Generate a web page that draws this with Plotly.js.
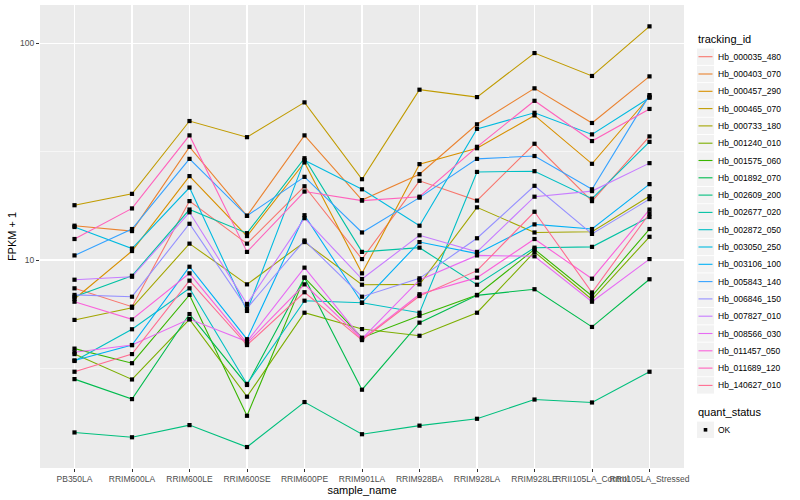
<!DOCTYPE html>
<html><head><meta charset="utf-8">
<script src="https://cdn.plot.ly/plotly-3.0.1.min.js"></script>
<style>html,body{margin:0;padding:0;background:#fff}#chart{width:800px;height:500px}</style>
</head><body><div id="chart"></div>
<script>
// sample names (x categories)
const samples = ["PB350LA","RRIM600LA","RRIM600LE","RRIM600SE","RRIM600PE","RRIM901LA","RRIM928BA","RRIM928LA","RRIM928LE","RRII105LA_Control","RRII105LA_Stressed"];

// FPKM + 1 per tracking_id
const Hb_000035_480 = [7.40, 6.09, 18.7, 11.9, 21.9, 10.1, 23.2, 18.8, 34.4, 18.7, 37.2];
const Hb_000403_070 = [14.4, 13.6, 33.3, 16.0, 37.6, 18.9, 24.9, 42.3, 62.0, 42.9, 70.4];
const Hb_000457_290 = [6.61, 11.0, 24.4, 12.9, 28.2, 8.68, 27.7, 32.8, 46.5, 27.8, 56.7];
const Hb_000465_070 = [17.9, 20.2, 43.8, 36.9, 53.4, 23.6, 61.1, 56.5, 90.2, 70.7, 119.8];
const Hb_000733_180 = [5.29, 6.02, 11.9, 7.72, 12.1, 7.69, 7.72, 17.5, 13.4, 13.5, 19.7];
const Hb_001240_010 = [3.68, 2.81, 5.32, 2.34, 5.71, 4.80, 4.47, 5.71, 10.9, 6.57, 12.8];
const Hb_001575_060 = [3.90, 3.34, 6.90, 1.91, 8.29, 4.38, 5.53, 6.90, 11.2, 6.82, 13.9];
const Hb_001892_070 = [2.82, 2.28, 5.63, 2.65, 8.29, 2.52, 5.14, 6.87, 7.33, 4.91, 8.15];
const Hb_002609_200 = [1.60, 1.52, 1.73, 1.37, 2.21, 1.57, 1.72, 1.85, 2.27, 2.20, 3.05];
const Hb_002677_020 = [6.77, 8.46, 17.1, 13.3, 29.5, 10.9, 11.4, 7.69, 11.4, 11.5, 15.8];
const Hb_002872_050 = [3.42, 4.79, 7.40, 2.68, 6.49, 6.35, 5.71, 25.5, 25.7, 19.2, 35.1];
const Hb_003050_250 = [14.2, 11.3, 21.6, 5.82, 28.9, 21.2, 14.4, 40.3, 47.8, 38.0, 56.1];
const Hb_003106_100 = [3.44, 4.05, 9.31, 4.31, 16.1, 6.35, 12.1, 10.7, 14.6, 13.9, 22.4];
const Hb_005843_140 = [10.5, 13.9, 29.3, 16.0, 24.2, 13.4, 19.4, 29.3, 30.2, 21.2, 57.7];
const Hb_006846_150 = [6.90, 6.77, 14.7, 5.99, 12.3, 6.77, 8.23, 12.6, 22.0, 13.2, 19.1];
const Hb_007827_010 = [8.11, 8.37, 16.6, 6.27, 15.6, 8.17, 13.0, 10.9, 19.6, 20.8, 28.0];
const Hb_008566_030 = [3.75, 4.05, 5.34, 4.20, 9.22, 4.34, 8.09, 10.5, 10.4, 6.42, 10.1];
const Hb_011457_050 = [6.42, 5.32, 8.68, 4.13, 7.72, 4.31, 6.95, 8.29, 12.5, 8.20, 17.1];
const Hb_011689_120 = [12.5, 17.3, 37.6, 10.9, 20.7, 18.8, 19.6, 33.3, 54.3, 35.4, 49.8];
const Hb_140627_010 = [3.05, 3.68, 8.03, 4.05, 7.10, 4.27, 6.82, 8.93, 16.7, 7.08, 16.4];

const trackingIds = ["Hb_000035_480","Hb_000403_070","Hb_000457_290","Hb_000465_070","Hb_000733_180","Hb_001240_010","Hb_001575_060","Hb_001892_070","Hb_002609_200","Hb_002677_020","Hb_002872_050","Hb_003050_250","Hb_003106_100","Hb_005843_140","Hb_006846_150","Hb_007827_010","Hb_008566_030","Hb_011457_050","Hb_011689_120","Hb_140627_010"];
const seriesValues = [Hb_000035_480,Hb_000403_070,Hb_000457_290,Hb_000465_070,Hb_000733_180,Hb_001240_010,Hb_001575_060,Hb_001892_070,Hb_002609_200,Hb_002677_020,Hb_002872_050,Hb_003050_250,Hb_003106_100,Hb_005843_140,Hb_006846_150,Hb_007827_010,Hb_008566_030,Hb_011457_050,Hb_011689_120,Hb_140627_010];
const hueColors = ["#F8766D","#EA8331","#D89000","#C09B00","#A3A500","#7CAE00","#39B600","#00BB4E","#00BF7D","#00C1A3","#00BFC4","#00BAE0","#00B0F6","#35A2FF","#9590FF","#C77CFF","#E76BF3","#FA62DB","#FF62BC","#FF6C91"];
const quantStatus = "OK";
const legendTitle = "tracking_id";
const legendTitle2 = "quant_status";

const FONT = "Liberation Sans, Arial, Helvetica, sans-serif";

// plot panel in pixels (margins)
const M = {l: 40, r: 116, t: 5, b: 32};
const W = 800, H = 500;
const PW = W - M.l - M.r, PH = H - M.t - M.b;
const px = x => (x - M.l) / PW;
const py = y => (H - M.b - y) / PH;

const traces = trackingIds.map((id, i) => ({
  type: "scatter", mode: "lines", name: id,
  x: samples, y: seriesValues[i],
  line: {color: hueColors[i], width: 1.1},
  showlegend: false, hoverinfo: "skip"
}));

const allX = [], allY = [];
seriesValues.forEach(vals => vals.forEach((v, j) => { allX.push(samples[j]); allY.push(v); }));
traces.push({
  type: "scatter", mode: "markers", name: quantStatus,
  x: allX, y: allY,
  marker: {symbol: "square", size: 4.2, color: "black"},
  showlegend: false, hoverinfo: "skip"
});

// hand-built ggplot-style legend (keys with grey boxes)
const shapes = [], annotations = [];
const keyX0 = 697, keyX1 = 714, step = 17.3, first = 56.7;
annotations.push({xref: "paper", yref: "paper", x: px(695.5), y: py(39), xanchor: "left", yanchor: "middle",
  text: legendTitle, showarrow: false, font: {family: FONT, size: 11, color: "#000"}});
trackingIds.forEach((id, i) => {
  const cy = first + i * step;
  shapes.push({type: "rect", xref: "paper", yref: "paper", x0: px(keyX0), x1: px(keyX1),
    y0: py(cy - 8.2), y1: py(cy + 8.2), fillcolor: "#F2F2F2", line: {width: 0}, layer: "above"});
  shapes.push({type: "line", xref: "paper", yref: "paper", x0: px(keyX0 + 1.5), x1: px(keyX1 - 1.5),
    y0: py(cy), y1: py(cy), line: {color: hueColors[i], width: 1.1}, layer: "above"});
  annotations.push({xref: "paper", yref: "paper", x: px(715.5), y: py(cy), xanchor: "left", yanchor: "middle",
    text: id, showarrow: false, font: {family: FONT, size: 8.5, color: "#000"}});
});
annotations.push({xref: "paper", yref: "paper", x: px(695.5), y: py(412.3), xanchor: "left", yanchor: "middle",
  text: legendTitle2, showarrow: false, font: {family: FONT, size: 11, color: "#000"}});
const okY = 429.8;
shapes.push({type: "rect", xref: "paper", yref: "paper", x0: px(keyX0), x1: px(keyX1),
  y0: py(okY - 8.2), y1: py(okY + 8.2), fillcolor: "#F2F2F2", line: {width: 0}, layer: "above"});
shapes.push({type: "rect", xref: "paper", yref: "paper", x0: px(703.7), x1: px(707.3),
  y0: py(okY - 1.8), y1: py(okY + 1.8), fillcolor: "#000", line: {width: 0}, layer: "above"});
annotations.push({xref: "paper", yref: "paper", x: px(715.5), y: py(okY), xanchor: "left", yanchor: "middle",
  text: quantStatus, showarrow: false, font: {family: FONT, size: 8.5, color: "#000"}});

const layout = {
  width: W, height: H,
  margin: M,
  paper_bgcolor: "#FFFFFF", plot_bgcolor: "#EBEBEB",
  font: {family: FONT, color: "#000"},
  showlegend: false,
  xaxis: {
    type: "category", range: [-0.6, 10.6],
    showgrid: true, gridcolor: "#FFFFFF", gridwidth: 1.1,
    zeroline: false, showline: false,
    ticks: "outside", ticklen: 3, tickcolor: "#333333", tickwidth: 1,
    tickangle: 0,
    tickfont: {family: FONT, size: 8.5, color: "#4D4D4D"},
    title: {text: "sample_name", font: {family: FONT, size: 11, color: "#000"}, standoff: 2}
  },
  yaxis: {
    type: "log", range: [0.040, 2.177],
    tickvals: [10, 100], ticktext: ["10", "100"],
    showgrid: true, gridcolor: "#FFFFFF", gridwidth: 1.1,
    minor: {tickvals: [3.1623, 31.623], showgrid: true, gridcolor: "#FFFFFF", gridwidth: 0.55, ticks: ""},
    zeroline: false, showline: false,
    ticks: "outside", ticklen: 3, tickcolor: "#333333", tickwidth: 1,
    tickfont: {family: FONT, size: 8.5, color: "#4D4D4D"},
    title: {text: "FPKM + 1", font: {family: FONT, size: 11, color: "#000"}, standoff: 1}
  },
  shapes: shapes,
  annotations: annotations
};

Plotly.newPlot("chart", traces, layout, {displayModeBar: false, staticPlot: true});
</script>
</body></html>
